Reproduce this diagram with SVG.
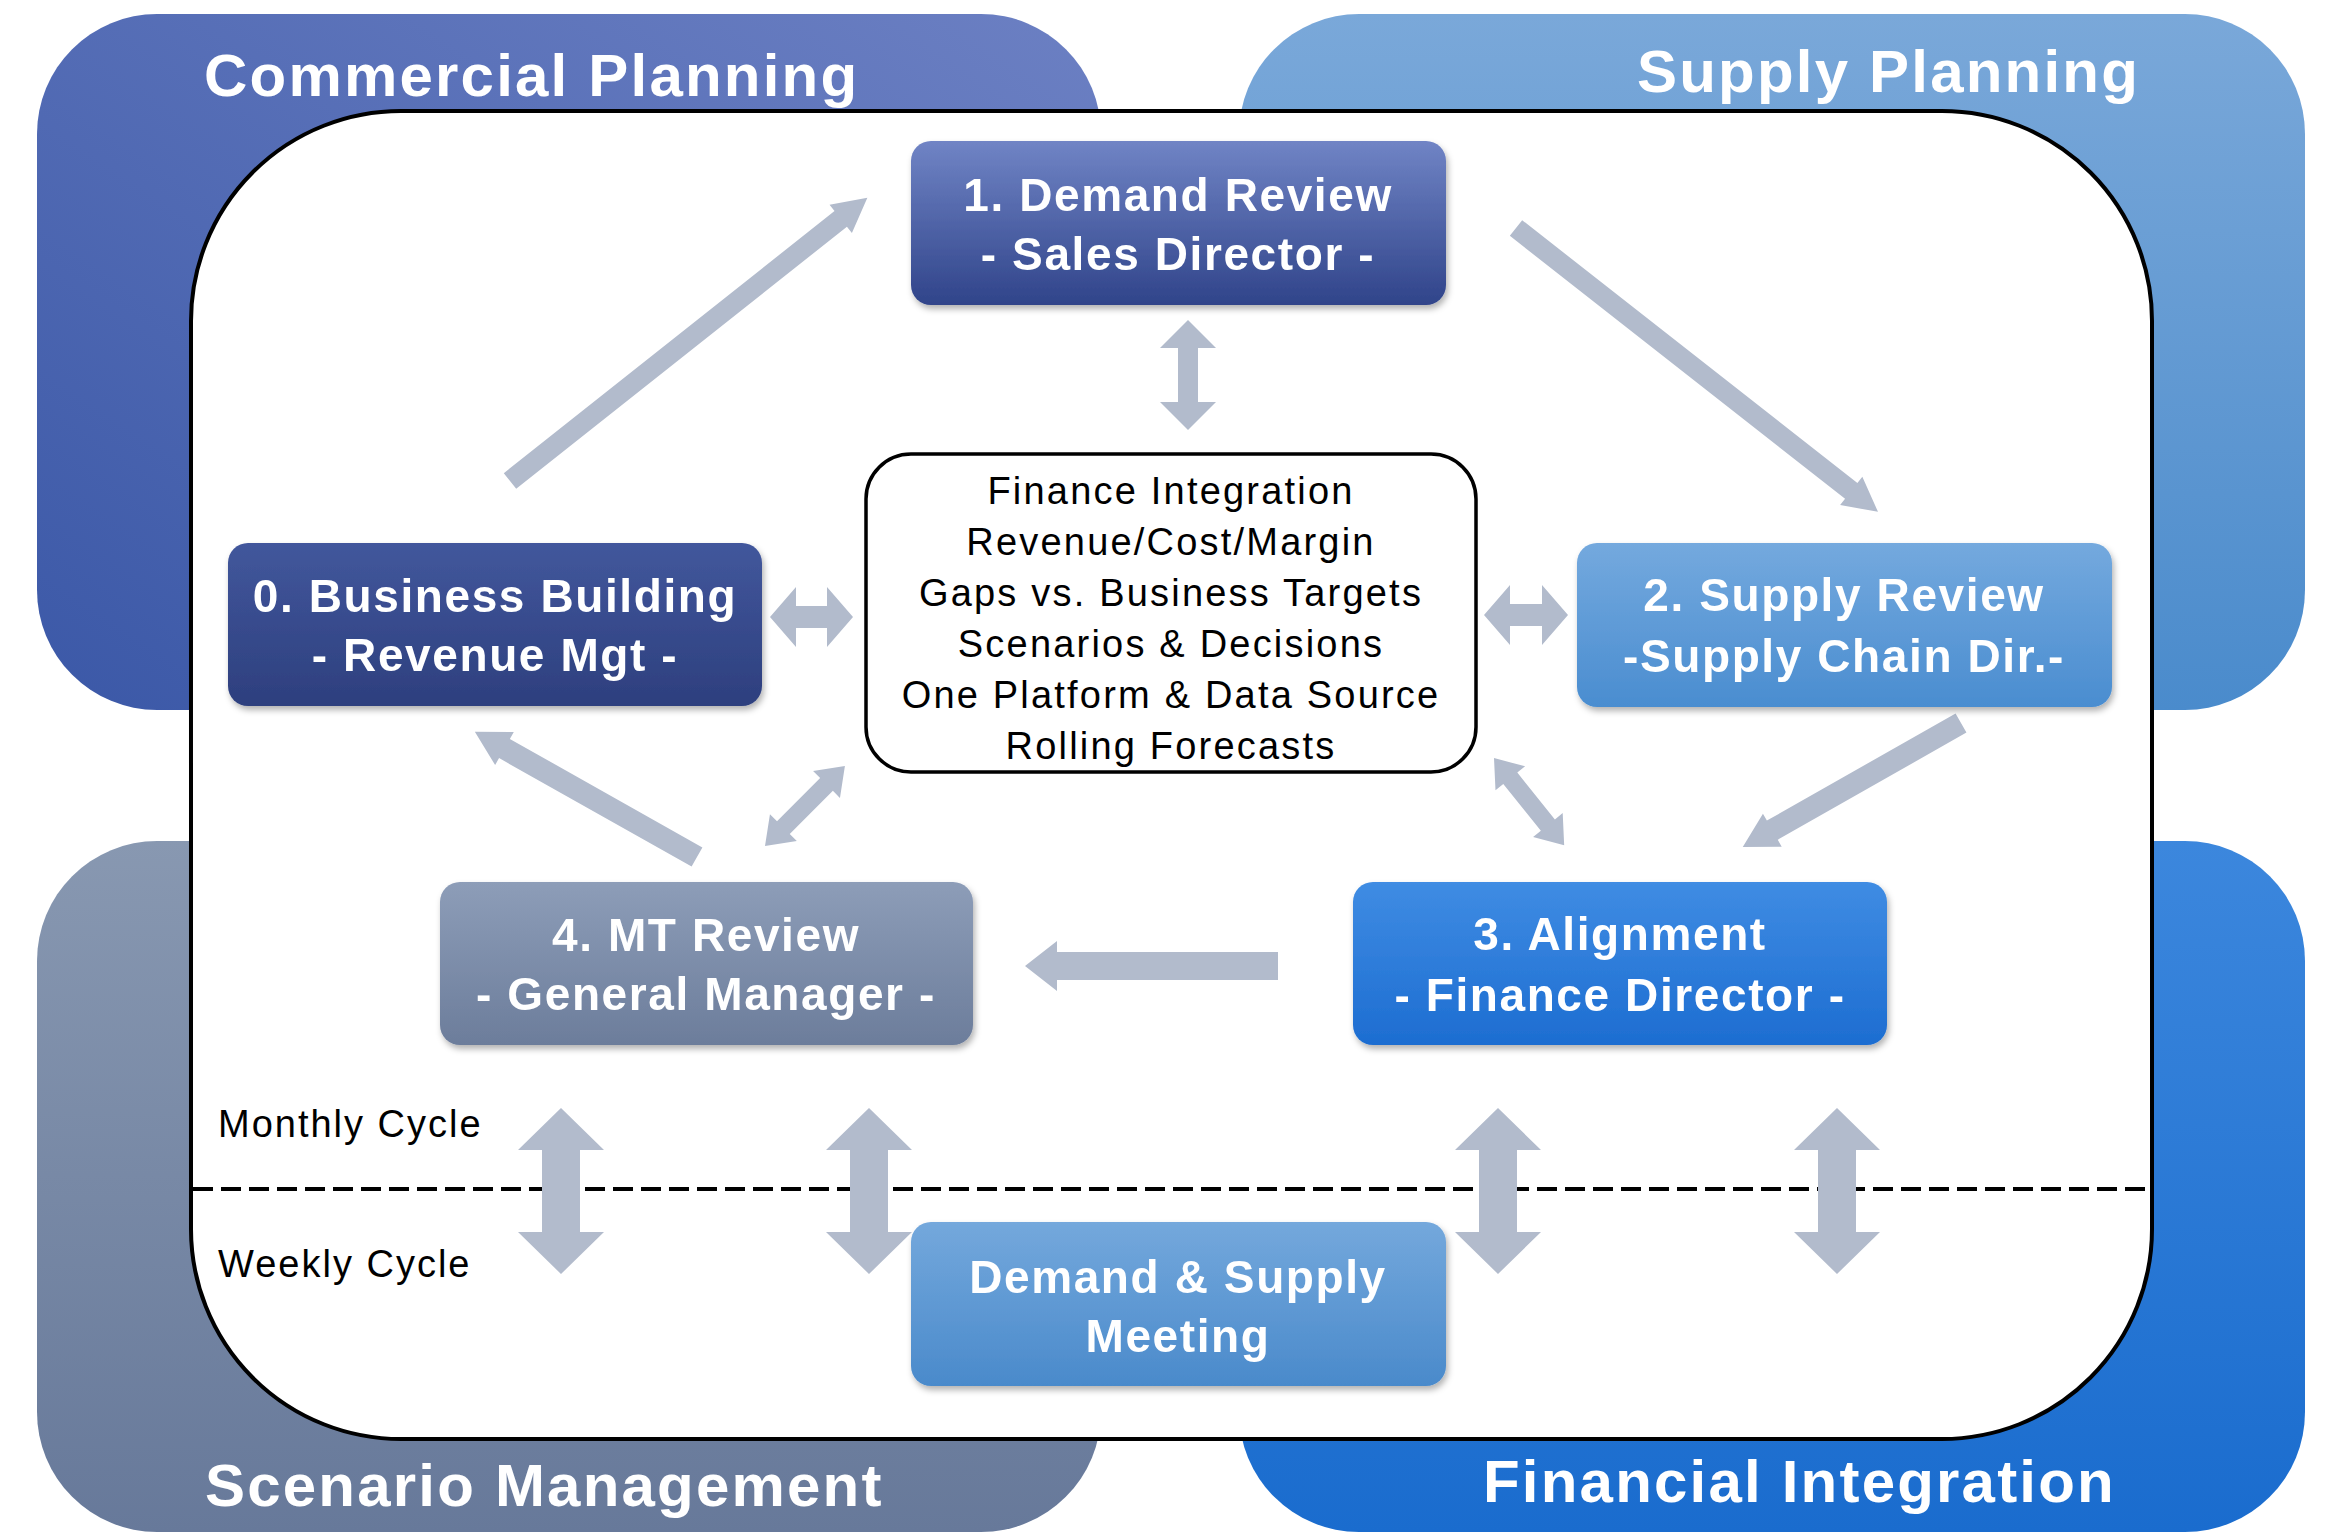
<svg xmlns="http://www.w3.org/2000/svg" xmlns:xlink="http://www.w3.org/1999/xlink" width="2326" height="1534" viewBox="0 0 2326 1534">
<style>
.title{font-family:"Liberation Sans",Arial,sans-serif;font-weight:bold;font-size:60px;letter-spacing:2.2px;fill:#ffffff}
.nt{font-family:"Liberation Sans",Arial,sans-serif;font-weight:bold;font-size:46px;letter-spacing:1.6px;fill:#ffffff;text-anchor:middle}
.ct{font-family:"Liberation Sans",Arial,sans-serif;font-size:38px;letter-spacing:2.2px;fill:#000000;text-anchor:middle}
.lt{font-family:"Liberation Sans",Arial,sans-serif;font-size:38px;letter-spacing:2px;fill:#000000}
.arr{fill:#b2bbcc}
.node{filter:url(#sh)}
</style>
<defs>
<linearGradient id="gCP" x1="1" y1="0" x2="0" y2="1"><stop offset="0" stop-color="#6c80c3"/><stop offset="1" stop-color="#3b58a7"/></linearGradient>
<linearGradient id="gSP" x1="0" y1="0" x2="0" y2="1"><stop offset="0" stop-color="#7aa8d9"/><stop offset="1" stop-color="#4a8bcc"/></linearGradient>
<linearGradient id="gSM" x1="0" y1="0" x2="0" y2="1"><stop offset="0" stop-color="#8898b1"/><stop offset="1" stop-color="#67799a"/></linearGradient>
<linearGradient id="gFI" x1="0" y1="0" x2="0" y2="1"><stop offset="0" stop-color="#3c87dd"/><stop offset="1" stop-color="#1a6cce"/></linearGradient>
<linearGradient id="gN1" x1="0" y1="0" x2="0" y2="1"><stop offset="0" stop-color="#7084c5"/><stop offset="1" stop-color="#30448a"/></linearGradient>
<linearGradient id="gN0" x1="0" y1="0" x2="0" y2="1"><stop offset="0" stop-color="#42579c"/><stop offset="1" stop-color="#2d3f7e"/></linearGradient>
<linearGradient id="gN2" x1="0" y1="0" x2="0" y2="1"><stop offset="0" stop-color="#74a9de"/><stop offset="1" stop-color="#4a8dd0"/></linearGradient>
<linearGradient id="gN3" x1="0" y1="0" x2="0" y2="1"><stop offset="0" stop-color="#3f8ce3"/><stop offset="1" stop-color="#1d6dd1"/></linearGradient>
<linearGradient id="gN4" x1="0" y1="0" x2="0" y2="1"><stop offset="0" stop-color="#8d9db8"/><stop offset="1" stop-color="#6c7d9b"/></linearGradient>
<linearGradient id="gN5" x1="0" y1="0" x2="0" y2="1"><stop offset="0" stop-color="#74a8dc"/><stop offset="1" stop-color="#4a8acb"/></linearGradient>
<filter id="sh" x="-10%" y="-10%" width="120%" height="130%"><feDropShadow dx="2" dy="4" stdDeviation="3" flood-color="#000000" flood-opacity="0.3"/></filter>
<path id="vdbl" d="M0,0 L42,-43 L42,-19 L124,-19 L124,-43 L166,0 L124,43 L124,19 L42,19 L42,43 Z"/>
</defs>

<g id="panels">
<rect id="commercial-planning" x="37" y="14" width="1064" height="696" rx="120" fill="url(#gCP)"/>
<rect id="supply-planning" x="1239" y="14" width="1066" height="696" rx="120" fill="url(#gSP)"/>
<rect id="scenario-management" x="37" y="841" width="1064" height="691" rx="120" fill="url(#gSM)"/>
<rect id="financial-integration" x="1239" y="841" width="1066" height="691" rx="120" fill="url(#gFI)"/>
<text class="title" x="204" y="96">Commercial Planning</text>
<text class="title" x="1637" y="92">Supply Planning</text>
<text class="title" x="205" y="1506">Scenario Management</text>
<text class="title" x="1483" y="1502">Financial Integration</text>
</g>

<rect id="cycle-frame" x="191" y="111" width="1961" height="1328" rx="210" fill="#ffffff" stroke="#000000" stroke-width="4"/>

<line id="cycle-divider" x1="193" y1="1189" x2="2150" y2="1189" stroke="#000000" stroke-width="4" stroke-dasharray="20 8"/>
<text class="lt" x="218" y="1137">Monthly Cycle</text>
<text class="lt" x="218" y="1277">Weekly Cycle</text>

<g id="connectors">
<polygon class="arr" points="0,-10 422,-10 422,-18 456,0 422,18 422,10 0,10" transform="translate(510,481) rotate(-38.4)"/>
<polygon class="arr" points="0,-10 426,-10 426,-18 460,0 426,18 426,10 0,10" transform="translate(1516,228) rotate(38.1)"/>
<polygon class="arr" points="0,-11 217,-11 217,-19 251,0 217,19 217,11 0,11" transform="translate(1961,723) rotate(150.4)"/>
<polygon class="arr" points="0,-14 221,-14 221,-25 253,0 221,25 221,14 0,14" transform="translate(1278,966) rotate(180)"/>
<polygon class="arr" points="0,-11 221,-11 221,-19 255,0 221,19 221,11 0,11" transform="translate(697,857) rotate(-150.6)"/>
<polygon class="arr" points="0,0 26,-30 26,-11 57,-11 57,-30 83,0 57,30 57,11 26,11 26,30" transform="translate(770,617)"/>
<polygon class="arr" points="0,0 26,-30 26,-11 58,-11 58,-30 84,0 58,30 58,11 26,11 26,30" transform="translate(1484,615)"/>
<polygon class="arr" points="0,0 28,-28 28,-10 82,-10 82,-28 110,0 82,28 82,10 28,10 28,28" transform="translate(1188,320) rotate(90)"/>
<polygon class="arr" points="0,0 26,-19 26,-9 87,-9 87,-19 113,0 87,19 87,9 26,9 26,19" transform="translate(765,846) rotate(-45)"/>
<polygon class="arr" points="0,0 26,-19 26,-9 86,-9 86,-19 112,0 86,19 86,9 26,9 26,19" transform="translate(1494,758) rotate(51.2)"/>
<use class="arr" xlink:href="#vdbl" transform="translate(561,1108) rotate(90)"/>
<use class="arr" xlink:href="#vdbl" transform="translate(869,1108) rotate(90)"/>
<use class="arr" xlink:href="#vdbl" transform="translate(1498,1108) rotate(90)"/>
<use class="arr" xlink:href="#vdbl" transform="translate(1837,1108) rotate(90)"/>
</g>

<g id="node-center">
<rect x="866" y="454" width="610" height="318" rx="45" fill="#ffffff" stroke="#000000" stroke-width="3.5"/>
<text class="ct" x="1171" y="504">Finance Integration</text>
<text class="ct" x="1171" y="555">Revenue/Cost/Margin</text>
<text class="ct" x="1171" y="606">Gaps vs. Business Targets</text>
<text class="ct" x="1171" y="657">Scenarios &amp; Decisions</text>
<text class="ct" x="1171" y="708">One Platform &amp; Data Source</text>
<text class="ct" x="1171" y="759">Rolling Forecasts</text>
</g>

<g id="node-1" class="node">
<rect x="911" y="141" width="535" height="164" rx="20" fill="url(#gN1)"/>
<text class="nt" x="1178" y="211">1. Demand Review</text>
<text class="nt" x="1178" y="270">- Sales Director -</text>
</g>

<g id="node-0" class="node">
<rect x="228" y="543" width="534" height="163" rx="20" fill="url(#gN0)"/>
<text class="nt" x="495" y="612">0. Business Building</text>
<text class="nt" x="495" y="671">- Revenue Mgt -</text>
</g>

<g id="node-2" class="node">
<rect x="1577" y="543" width="535" height="164" rx="20" fill="url(#gN2)"/>
<text class="nt" x="1844" y="611">2. Supply Review</text>
<text class="nt" x="1844" y="672">-Supply Chain Dir.-</text>
</g>

<g id="node-3" class="node">
<rect x="1353" y="882" width="534" height="163" rx="20" fill="url(#gN3)"/>
<text class="nt" x="1620" y="950">3. Alignment</text>
<text class="nt" x="1620" y="1011">- Finance Director -</text>
</g>

<g id="node-4" class="node">
<rect x="440" y="882" width="533" height="163" rx="20" fill="url(#gN4)"/>
<text class="nt" x="706" y="951">4. MT Review</text>
<text class="nt" x="706" y="1010">- General Manager -</text>
</g>

<g id="node-meeting" class="node">
<rect x="911" y="1222" width="535" height="164" rx="20" fill="url(#gN5)"/>
<text class="nt" x="1178" y="1293">Demand &amp; Supply</text>
<text class="nt" x="1178" y="1352">Meeting</text>
</g>
</svg>
